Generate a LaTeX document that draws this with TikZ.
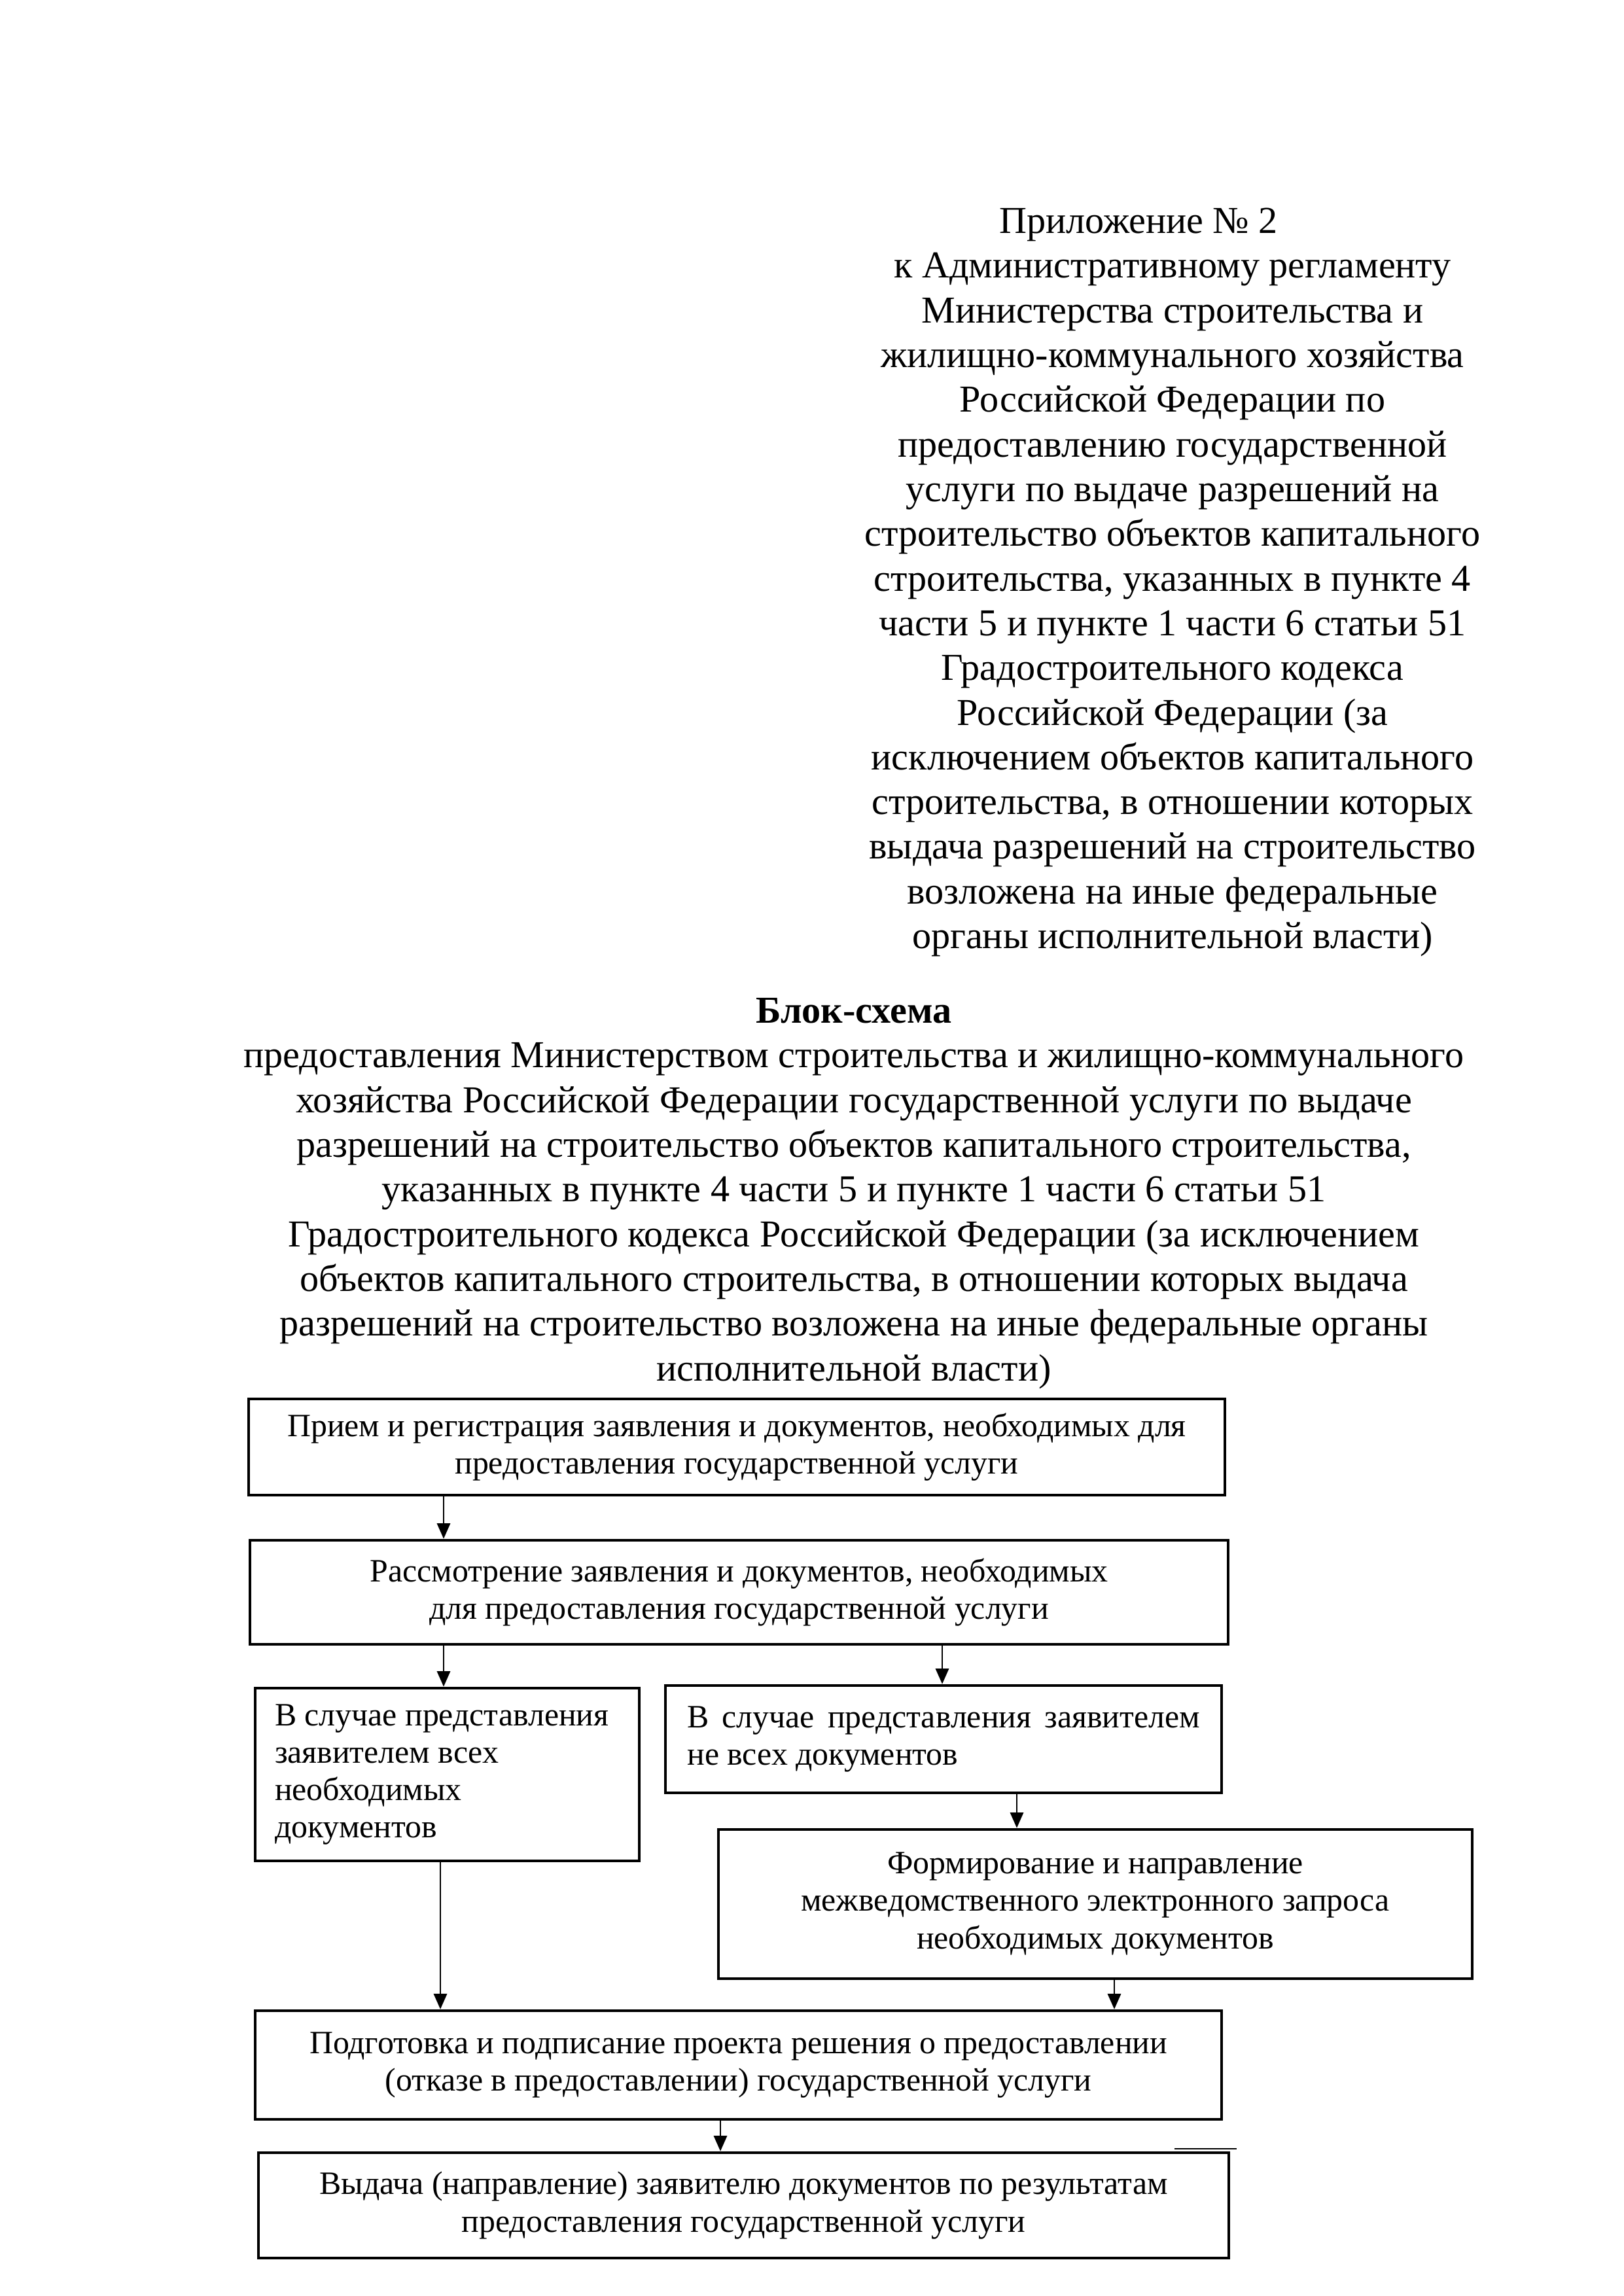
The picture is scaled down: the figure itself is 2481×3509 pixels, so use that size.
\documentclass[tikz,border=0pt]{standalone}
\usepackage{fontspec}
\setmainfont{Liberation Serif}
\usetikzlibrary{arrows.meta}
\def\u{0.084643mm}
\begin{document}
\begin{tikzpicture}[x=0.084643mm,y=-0.084643mm,
  box/.style={draw, line width=1.1pt, inner sep=0pt, align=center, font=\fontsize{12}{13.8}\selectfont},
  arr/.style={-{Triangle[length=2mm,width=1.7mm]}, line width=0.7pt},
  hdr/.style={align=center, font=\fontsize{14}{16.45}\selectfont, inner sep=0pt}]
\path[use as bounding box, fill=white] (0,0) rectangle (2481,3509);

\node[hdr] (app) at (1792,890) {Приложение № 2\hspace*{8.8mm}\\
к Административному регламенту\\
Министерства строительства и\\
жилищно-коммунального хозяйства\\
Российской Федерации по\\
предоставлению государственной\\
услуги по выдаче разрешений на\\
строительство объектов капитального\\
строительства, указанных в пункте 4\\
части 5 и пункте 1 части 6 статьи 51\\
Градостроительного кодекса\\
Российской Федерации (за\\
исключением объектов капитального\\
строительства, в отношении которых\\
выдача разрешений на строительство\\
возложена на иные федеральные\\
органы исполнительной власти)};

\node[hdr] (title) at (1305,1824) {\textbf{Блок-схема}\\
предоставления Министерством строительства и жилищно-коммунального\\
хозяйства Российской Федерации государственной услуги по выдаче\\
разрешений на строительство объектов капитального строительства,\\
указанных в пункте 4 части 5 и пункте 1 части 6 статьи 51\\
Градостроительного кодекса Российской Федерации (за исключением\\
объектов капитального строительства, в отношении которых выдача\\
разрешений на строительство возложена на иные федеральные органы\\
исполнительной власти)};

\node[box, minimum width=1492*\u, minimum height=147*\u] (b1) at (1126,2211.5)
  {Прием и регистрация заявления и документов, необходимых для\\ предоставления государственной услуги};
\node[box, minimum width=1495*\u, minimum height=159*\u] (b2) at (1129.5,2433.5)
  {Рассмотрение заявления и документов, необходимых\\ для предоставления государственной услуги};
\node[box, minimum width=587*\u, minimum height=264*\u] (b3) at (683.5,2712)
  {\parbox{44.6mm}{\raggedright В случае представления\\ заявителем всех\\ необходимых\\ документов}};
\node[box, minimum width=850*\u, minimum height=164*\u] (b4) at (1442,2658)
  {\parbox{66.3mm}{\makebox[\linewidth][s]{В случае представления заявителем}\\ не всех документов}};
\node[box, minimum width=1152*\u, minimum height=228*\u] (b5) at (1674,2910)
  {Формирование и направление\\ межведомственного электронного запроса\\ необходимых документов};
\node[box, minimum width=1477*\u, minimum height=166*\u] (b6) at (1128.5,3156)
  {Подготовка и подписание проекта решения о предоставлении\\ (отказе в предоставлении) государственной услуги};
\node[box, minimum width=1483*\u, minimum height=161*\u] (b7) at (1136.5,3370.5)
  {Выдача (направление) заявителю документов по результатам\\ предоставления государственной услуги};

\coordinate (xa) at (678,0);
\coordinate (xb) at (1440,0);
\coordinate (xc) at (1554,0);
\coordinate (xd) at (673,0);
\coordinate (xe) at (1703,0);
\coordinate (xf) at (1101,0);
\draw[arr] (b1.south -| xa) -- (b2.north -| xa);
\draw[arr] (b2.south -| xa) -- (b3.north -| xa);
\draw[arr] (b2.south -| xb) -- (b4.north -| xb);
\draw[arr] (b4.south -| xc) -- (b5.north -| xc);
\draw[arr] (b3.south -| xd) -- (b6.north -| xd);
\draw[arr] (b5.south -| xe) -- (b6.north -| xe);
\draw[arr] (b6.south -| xf) -- (b7.north -| xf);

\draw[line width=0.6pt] (1795,3284) -- (1890,3284);
\end{tikzpicture}
\end{document}
